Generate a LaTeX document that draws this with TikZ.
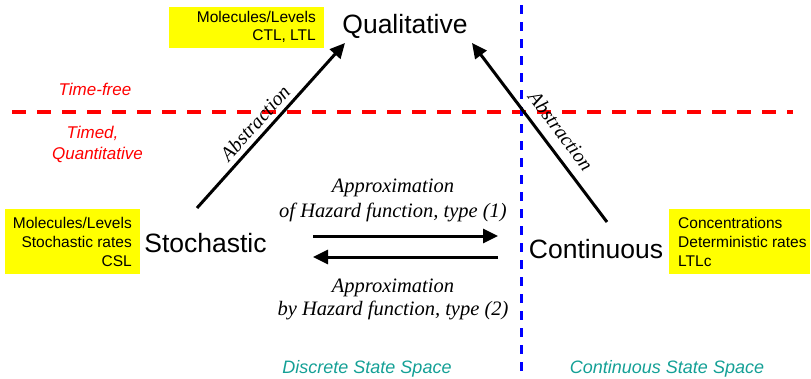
\documentclass[tikz,border=0pt]{standalone}
\usepackage{fontspec}
\setmainfont{Liberation Sans}
\newfontfamily\tms{Liberation Serif}
\usetikzlibrary{arrows.meta}
\definecolor{tealtxt}{RGB}{20,160,150}
\definecolor{yel}{RGB}{255,255,0}
\definecolor{bluedash}{RGB}{0,0,255}
\definecolor{reddash}{RGB}{255,0,0}
\begin{document}
\begin{tikzpicture}[x=1pt,y=-1pt,
  ybox/.style={fill=yel, draw=none, inner sep=0pt, anchor=north west},
  boxtxt/.style={font=\fontsize{15.5}{19}\selectfont, inner sep=0pt, anchor=base east},
  boxtxtl/.style={font=\fontsize{15.5}{19}\selectfont, inner sep=0pt, anchor=base west},
  big/.style={font=\fontsize{26.5}{30}\selectfont, inner sep=0pt, anchor=base},
  redtxt/.style={text=reddash, font=\fontsize{17}{21}\selectfont\itshape, inner sep=0pt, anchor=base},
  tealstyle/.style={text=tealtxt, font=\fontsize{18}{21}\selectfont\itshape, inner sep=0pt, anchor=base},
  serlab/.style={font=\fontsize{20.5}{24}\selectfont\tms\itshape, inner sep=0pt, anchor=base},
  abslab/.style={font=\fontsize{20}{24}\selectfont\tms\itshape, inner sep=0pt},
  bigarrow/.style={line width=3pt, -{Triangle[length=15pt,width=14pt]}},
  reddashed/.style={draw=reddash, line width=4pt, dash pattern=on 14pt off 11pt},
  bluedashed/.style={draw=bluedash, line width=2.5pt, dash pattern=on 9pt off 8pt}
]
\useasboundingbox (0,0) rectangle (811,378);

% separator lines
\coordinate (bt) at (521.5,5);
\coordinate (bb) at (521.5,378);
\coordinate (rl) at (12,112);
\coordinate (rr) at (793,112);
\draw[reddashed] (rl) -- (rr);
\draw[bluedashed] (bt) -- (bb);

% yellow boxes
\node[ybox, minimum width=155pt, minimum height=41pt] (qbox) at (169,7) {};
\node[boxtxt] (q1) at (316,22) {Molecules/Levels};
\node[boxtxt] (q2) at (316,40) {CTL, LTL};

\node[ybox, minimum width=135pt, minimum height=65pt] (sbox) at (5,209) {};
\node[boxtxt] (s1) at (132,228) {Molecules/Levels};
\node[boxtxt] (s2) at (132,247) {Stochastic rates};
\node[boxtxt] (s3) at (132,266) {CSL};

\node[ybox, minimum width=141pt, minimum height=65pt] (cbox) at (669,209) {};
\node[boxtxtl] (c1) at (678,228) {Concentrations};
\node[boxtxtl] (c2) at (678,247) {Deterministic rates};
\node[boxtxtl] (c3) at (678,266) {LTLc};

% main nodes
\node[big] (qual) at (405,33) {Qualitative};
\node[big] (stoch) at (205.5,252) {Stochastic};
\node[big] (cont) at (596,258) {Continuous};

% red labels
\node[redtxt] (tf) at (95,95) {Time-free};
\node[redtxt] (td) at (92.5,138) {Timed,};
\node[redtxt] (tq) at (97.5,159) {Quantitative};

% abstraction arrows
\coordinate (sa) at (197,208);
\coordinate (qa) at (345,43);
\coordinate (ca) at (607,222);
\coordinate (qb) at (472,43);
\draw[bigarrow] (sa) -- (qa);
\draw[bigarrow] (ca) -- (qb);
\node[abslab, rotate=48] (abs1) at (255,123) {Abstraction};
\node[abslab, rotate=-53] (abs2) at (561,131) {Abstraction};

% approximation arrows
\coordinate (a1s) at (313,236);
\coordinate (a1e) at (498,236);
\coordinate (a2s) at (498,257);
\coordinate (a2e) at (313,257);
\draw[bigarrow] (a1s) -- (a1e);
\draw[bigarrow] (a2s) -- (a2e);
\node[serlab] (ap1) at (393,192) {Approximation};
\node[serlab] (ap1b) at (393,217) {of Hazard function, type (1)};
\node[serlab] (ap2) at (393,292) {Approximation};
\node[serlab] (ap2b) at (393,315) {by Hazard function, type (2)};

% bottom labels
\node[tealstyle] (dss) at (367,373) {Discrete State Space};
\node[tealstyle] (css) at (667,373) {Continuous State Space};
\end{tikzpicture}
\end{document}
